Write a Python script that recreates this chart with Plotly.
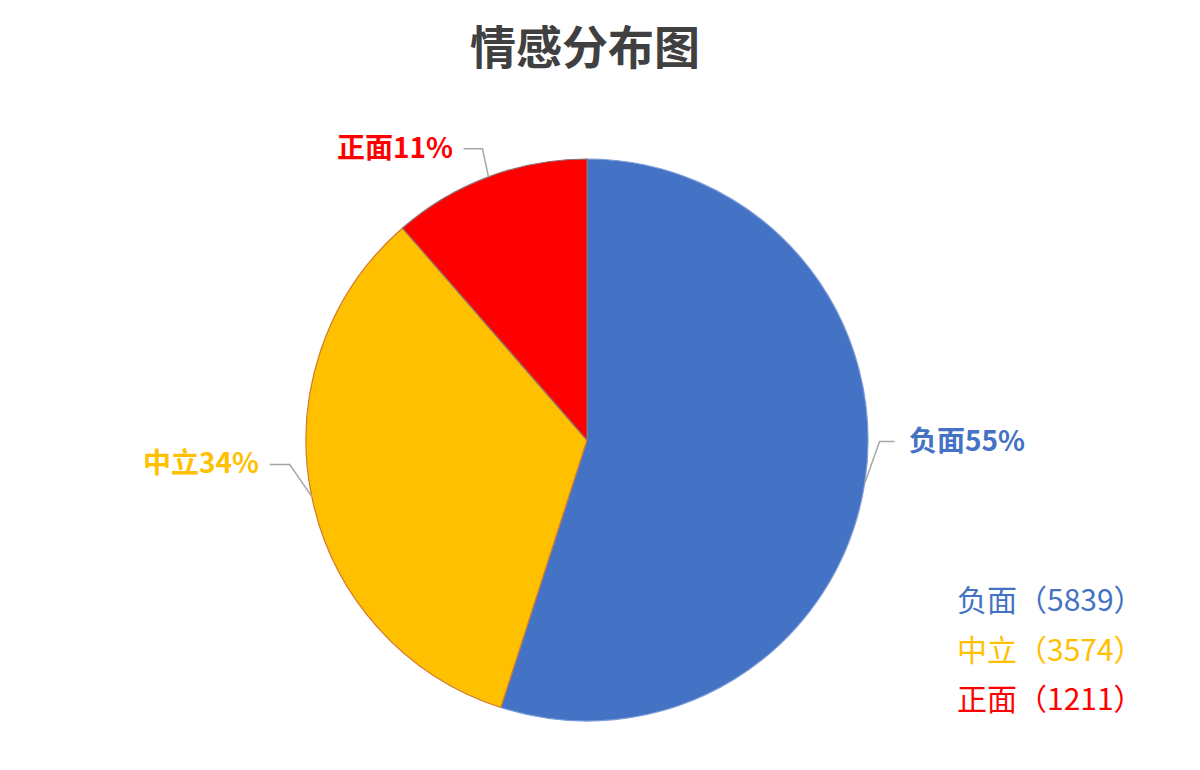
#!/usr/bin/env python3
import math
import plotly.graph_objects as go

# data
labels = ['负面', '中立', '正面']
values = [5839, 3574, 1211]
colors = ['#4472C4', '#FFC000', '#FF0000']
edge_colors = ['#7b9bd8', '#d2782a', '#8c6f6f']

W, H = 1200, 770
OFF = 8                            # page body margin shifts the figure
cx, cy, R = 587 - OFF, 440 - OFF, 281   # pie centre / radius in pixels

# leader-line elbow offsets (px) and horizontal tail per slice
elbow = [(15, -42), (-22, -32), (-6, -28)]
tail = [15, -20, -19]

total = sum(values)
pcts = [round(v / total * 100) for v in values]

fig = go.Figure()
fig.add_trace(go.Pie(labels=labels,
                     values=values,
                     sort=False,
                     direction='clockwise',
                     rotation=0,
                     marker=dict(colors=colors, line=dict(color=edge_colors, width=1.2)),
                     textinfo='none',
                     hoverinfo='label+value+percent',
                     domain=dict(x=[(cx - R) / W, (cx + R) / W],
                                 y=[(H - cy - R) / H, (H - cy + R) / H]),
                     showlegend=False))

def px(x, y):
    return x / W, 1 - y / H

annotations = []
shapes = []
cum = 0
for i, v in enumerate(values):
    theta = 2 * math.pi * (cum + v / 2) / total
    cum += v
    ex = cx + R * math.sin(theta)
    ey = cy - R * math.cos(theta)
    bx, by = ex + elbow[i][0], ey + elbow[i][1]
    tx = bx + tail[i]
    pts = [(ex, ey), (bx, by), (tx, by)]
    path = 'M ' + ' L '.join('%.4f,%.4f' % px(x, y) for x, y in pts)
    shapes.append(dict(type='path', xref='paper', yref='paper', path=path,
                       line=dict(color='#a6a6a6', width=1.5)))
    right = tail[i] > 0
    lx, ly = px(tx, by)
    annotations.append(dict(x=lx, y=ly, xref='paper', yref='paper',
                            text='<b>%s%d%%</b>' % (labels[i], pcts[i]),
                            showarrow=False,
                            xanchor='left' if right else 'right',
                            yanchor='middle',
                            xshift=12 if right else -9, yshift=3,
                            font=dict(size=28, color=colors[i],
                                      family='Noto Sans CJK SC')))

# legend drawn as coloured text lines, bottom right
for i, (lab, v) in enumerate(zip(labels, values)):
    lx, ly = px(955 - OFF, 598 - OFF + i * 49.5)
    annotations.append(dict(x=lx, y=ly, xref='paper', yref='paper',
                            text='%s（%d）' % (lab, v),
                            showarrow=False, xanchor='left', yanchor='middle',
                            font=dict(size=30, color=colors[i],
                                      family='Noto Sans CJK SC')))

# title as a plain annotation near the top
tx, ty = px(585 - OFF, 44 - OFF)
annotations.append(dict(x=tx, y=ty, xref='paper', yref='paper',
                        text='<b>情感分布图</b>', showarrow=False,
                        xanchor='center', yanchor='middle',
                        font=dict(size=46, color='#404040',
                                  family='Noto Sans CJK SC')))

fig.update_layout(width=W, height=H,
                  margin=dict(l=0, r=0, t=0, b=0),
                  paper_bgcolor='white',
                  plot_bgcolor='white',
                  shapes=shapes,
                  annotations=annotations)

fig.write_html("out.html")
